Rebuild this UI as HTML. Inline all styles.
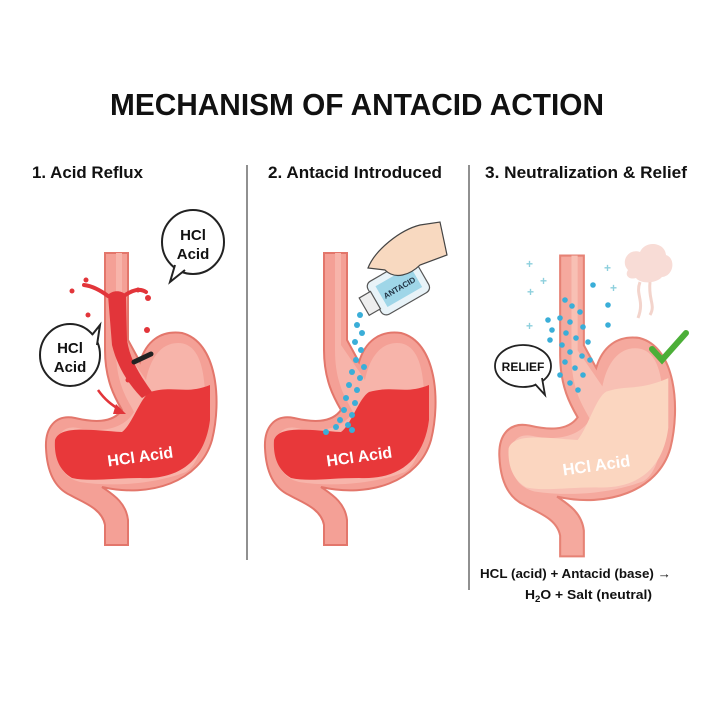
<!DOCTYPE html>
<html><head><meta charset="utf-8"><style>
html,body{margin:0;padding:0;background:#fff}
svg{display:block}
text{font-family:"Liberation Sans",sans-serif;font-weight:bold}
</style></head><body>
<svg width="716" height="716" viewBox="0 0 716 716" xmlns="http://www.w3.org/2000/svg">
<defs>
<path id="st" d="M105,253 L105,350 C105,380 115,398 122,410 C112,424 92,422 75,418 C55,414 45,428 46,448 C47,472 55,488 70,495 C82,502 102,508 105,525 L105,545 L128,545 L128,520 C126,502 112,494 102,487 C150,498 200,482 212,440 C222,400 217,342 182,333 C160,330 146,342 140,362 L128,340 L128,253 Z"/>
<path id="inn" d="M116,253 L116,350 C116,385 128,400 134,412 C122,432 95,432 78,428 C62,425 56,436 57,450 C58,468 65,478 80,482 C120,488 160,482 186,472 C205,460 205,420 205,400 C205,360 195,343 178,343 C160,343 150,360 146,380 L122,345 L122,253 Z"/>
</defs>
<rect width="716" height="716" fill="#fff"/>
<text x="357" y="115" font-size="31" text-anchor="middle" textLength="494" lengthAdjust="spacingAndGlyphs" fill="#111">MECHANISM OF ANTACID ACTION</text>
<text x="32" y="178" font-size="17" textLength="111" lengthAdjust="spacingAndGlyphs" fill="#111">1. Acid Reflux</text>
<text x="268" y="178" font-size="17" textLength="174" lengthAdjust="spacingAndGlyphs" fill="#111">2. Antacid Introduced</text>
<text x="485" y="178" font-size="17" textLength="202" lengthAdjust="spacingAndGlyphs" fill="#111">3. Neutralization &amp; Relief</text>
<line x1="247" y1="165" x2="247" y2="560" stroke="#555" stroke-width="1.3"/>
<line x1="469" y1="165" x2="469" y2="590" stroke="#555" stroke-width="1.3"/>

<!-- Panel 1 -->
<g>
<use href="#st" fill="#f4a096" stroke="#e3766b" stroke-width="2"/>
<use href="#inn" fill="#f7b4aa"/>
<path d="M55,440 C60,425 90,430 122,432 C132,425 140,398 150,392 C175,385 185,395 210,385 L210,420 C205,460 180,480 140,478 C110,478 90,482 72,478 C58,470 54,455 55,440 Z" fill="#e8383a"/>
<path d="M108,295 C112,290 122,290 126,295 L127,340 C130,360 140,375 152,392 L142,398 C132,388 118,370 112,345 Z" fill="#e2353a"/>
<path d="M108,296 C100,290 92,286 84,285 M124,296 C132,290 140,288 146,292" stroke="#e2353a" stroke-width="4" fill="none" stroke-linecap="round"/>
<circle cx="72" cy="291" r="2.5" fill="#e2353a"/><circle cx="86" cy="280" r="2.5" fill="#e2353a"/><circle cx="88" cy="315" r="2.5" fill="#e2353a"/><circle cx="138" cy="290" r="2.5" fill="#e2353a"/><circle cx="148" cy="298" r="3" fill="#e2353a"/><circle cx="147" cy="330" r="3" fill="#e2353a"/><circle cx="128" cy="380" r="2.5" fill="#e2353a"/>
<path d="M134,362 L151,354" stroke="#222" stroke-width="5" stroke-linecap="round"/>
<path d="M98,390 C105,400 112,405 120,410" stroke="#e2353a" stroke-width="2.5" fill="none"/>
<path d="M116,404 L126,414 L113,414 Z" fill="#e2353a"/>
<text x="140" y="462" font-size="16" fill="#fff" text-anchor="middle" transform="rotate(-8 140 455)">HCl Acid</text>
<ellipse cx="193" cy="242" rx="31" ry="32" fill="#fff" stroke="#222" stroke-width="2"/>
<path d="M175,265 L170,282 L185,270" fill="#fff" stroke="#222" stroke-width="2"/>
<text x="193" y="240" font-size="15" text-anchor="middle" fill="#111">HCl</text>
<text x="193" y="259" font-size="15" text-anchor="middle" fill="#111">Acid</text>
<ellipse cx="70" cy="355" rx="30" ry="31" fill="#fff" stroke="#222" stroke-width="2"/>
<path d="M92,335 L100,325 L97,345" fill="#fff" stroke="#222" stroke-width="2"/>
<text x="70" y="353" font-size="15" text-anchor="middle" fill="#111">HCl</text>
<text x="70" y="372" font-size="15" text-anchor="middle" fill="#111">Acid</text>
</g>

<!-- Panel 2 -->
<g transform="translate(219,0)">
<use href="#st" fill="#f4a096" stroke="#e3766b" stroke-width="2"/>
<use href="#inn" fill="#f7b4aa"/>
<path d="M55,440 C60,425 90,430 122,432 C132,425 140,398 150,392 C175,385 185,395 210,385 L210,420 C205,460 180,480 140,478 C110,478 90,482 72,478 C58,470 54,455 55,440 Z" fill="#e8383a"/>
<text x="140" y="462" font-size="16" fill="#fff" text-anchor="middle" transform="rotate(-8 140 455)">HCl Acid</text>
</g>
<g fill="#3aaed8">
<circle cx="360" cy="315" r="3"/><circle cx="357" cy="325" r="3"/><circle cx="362" cy="333" r="3"/><circle cx="355" cy="342" r="3"/><circle cx="361" cy="350" r="3"/><circle cx="356" cy="360" r="3"/><circle cx="364" cy="367" r="3"/><circle cx="352" cy="372" r="3"/><circle cx="360" cy="378" r="3"/><circle cx="349" cy="385" r="3"/><circle cx="357" cy="390" r="3"/><circle cx="346" cy="398" r="3"/><circle cx="355" cy="403" r="3"/><circle cx="344" cy="410" r="3"/><circle cx="352" cy="415" r="3"/><circle cx="340" cy="420" r="3"/><circle cx="348" cy="425" r="3"/><circle cx="336" cy="427" r="3"/><circle cx="326" cy="432" r="3"/><circle cx="352" cy="430" r="3"/>
</g>
<g transform="rotate(-30 395 290)">
<rect x="372" y="270" width="55" height="38" rx="6" fill="#e8f3f8" stroke="#555" stroke-width="1.2"/>
<rect x="380" y="277" width="40" height="24" fill="#9fd6e8"/>
<text x="400" y="293" font-size="8" text-anchor="middle" fill="#234">ANTACID</text>
<rect x="360" y="279" width="13" height="20" fill="#eee" stroke="#555" stroke-width="1.2"/>
</g>
<path d="M368,268 C375,250 400,230 420,225 L440,222 L447,255 L420,265 C410,275 395,280 385,270 Z" fill="#f8d9c0" stroke="#444" stroke-width="1.2"/>

<!-- Panel 3 -->
<g transform="translate(452,-5) scale(1.03)">
<use href="#st" fill="#f5a99e" stroke="#e68275" stroke-width="2"/>
<use href="#inn" fill="#f8c0b4"/>
<path d="M55,440 C60,425 90,430 122,432 C132,420 140,390 150,385 C170,378 180,385 210,372 L210,420 C205,460 180,480 140,478 C110,478 90,482 72,478 C58,470 54,455 55,440 Z" fill="#fbd6c0"/>
<text x="140" y="462" font-size="16" fill="#fff" text-anchor="middle" transform="rotate(-8 140 455)">HCl Acid</text>
</g>
<g fill="#3aaed8">
<circle cx="565" cy="300" r="2.8"/><circle cx="572" cy="306" r="2.8"/><circle cx="580" cy="312" r="2.8"/><circle cx="560" cy="318" r="2.8"/><circle cx="570" cy="322" r="2.8"/><circle cx="583" cy="327" r="2.8"/><circle cx="548" cy="320" r="2.8"/><circle cx="566" cy="333" r="2.8"/><circle cx="576" cy="338" r="2.8"/><circle cx="588" cy="342" r="2.8"/><circle cx="562" cy="345" r="2.8"/><circle cx="552" cy="330" r="2.8"/><circle cx="570" cy="352" r="2.8"/><circle cx="582" cy="356" r="2.8"/><circle cx="565" cy="362" r="2.8"/><circle cx="590" cy="360" r="2.8"/><circle cx="575" cy="368" r="2.8"/><circle cx="560" cy="375" r="2.8"/><circle cx="583" cy="375" r="2.8"/><circle cx="570" cy="383" r="2.8"/><circle cx="593" cy="285" r="2.8"/><circle cx="608" cy="305" r="2.8"/><circle cx="608" cy="325" r="2.8"/><circle cx="550" cy="340" r="2.8"/><circle cx="578" cy="390" r="2.8"/>
</g>
<g fill="#8ed0dd" font-size="12"><text x="526" y="268">+</text><text x="540" y="285">+</text><text x="527" y="296">+</text><text x="526" y="330">+</text><text x="604" y="272">+</text><text x="610" y="292">+</text></g>
<path d="M628,270 C620,262 628,248 640,252 C645,240 665,242 666,255 C676,258 674,276 662,277 C656,284 640,284 636,278 C630,280 624,276 628,270 Z" fill="#f8dcd6"/>
<path d="M640,282 C635,295 645,300 638,318 M650,282 C648,300 656,305 650,315" stroke="#f3d4cc" stroke-width="3" fill="none"/>
<path d="M652,349 L662,360 L686,333" stroke="#4caf38" stroke-width="6" fill="none" stroke-linecap="round"/>
<ellipse cx="523" cy="366" rx="28" ry="21" fill="#fff" stroke="#222" stroke-width="1.8"/>
<path d="M535,384 L545,395 L542,378" fill="#fff" stroke="#222" stroke-width="1.8"/>
<text x="523" y="371" font-size="12" text-anchor="middle" fill="#111">RELIEF</text>

<text x="480" y="578" font-size="13" textLength="191" lengthAdjust="spacingAndGlyphs" fill="#111">HCL (acid) + Antacid (base) →</text>
<text x="525" y="599" font-size="13" textLength="127" lengthAdjust="spacingAndGlyphs" fill="#111">H<tspan font-size="9" dy="3">2</tspan><tspan dy="-3">O + Salt (neutral)</tspan></text>
</svg>
</body></html>
